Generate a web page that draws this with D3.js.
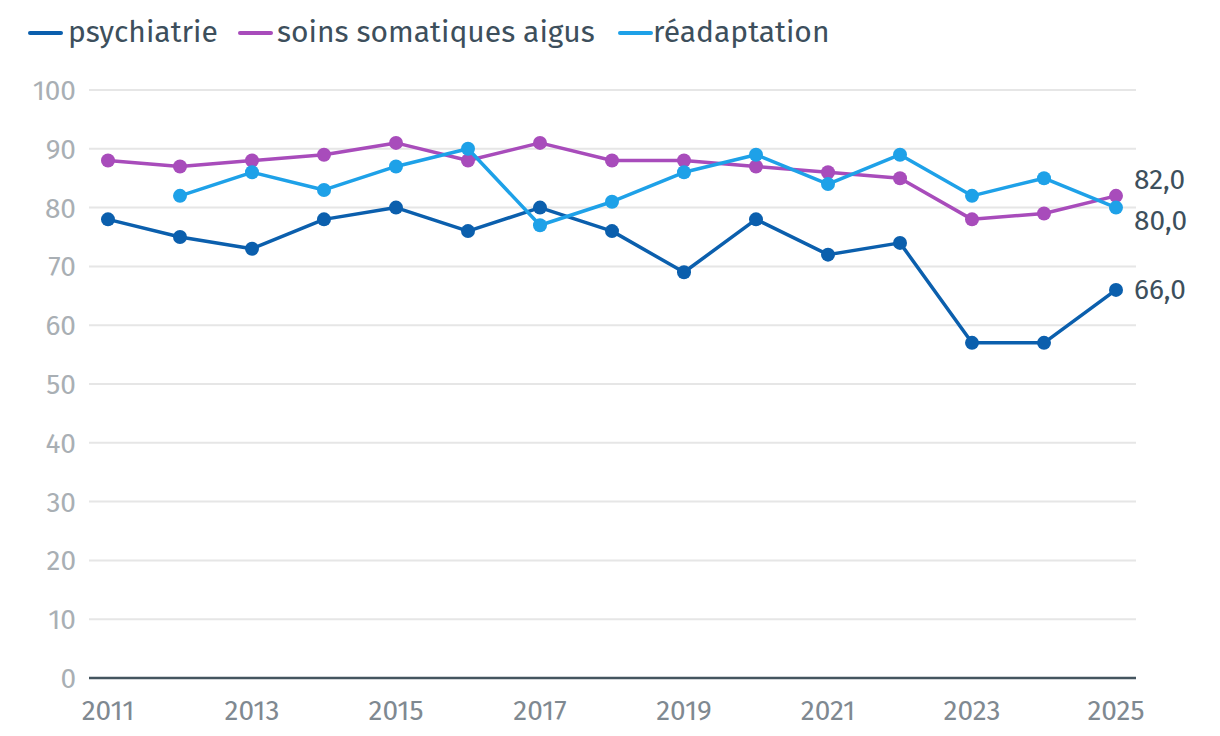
<!DOCTYPE html>
<html><head><meta charset="utf-8">
<script src="https://cdn.jsdelivr.net/npm/d3@7"></script>
<style>body{margin:0;background:#fff}svg{display:block}text{font-family:"Fira Sans","Open Sans","Noto Sans",sans-serif}</style>
</head><body><svg id="c" width="1220" height="736"></svg>
<script>
const years = [2011,2012,2013,2014,2015,2016,2017,2018,2019,2020,2021,2022,2023,2024,2025];
const psychiatrie = [78,75,73,78,80,76,80,76,69,78,72,74,57,57,66];
const soinsSomatiques = [88,87,88,89,91,88,91,88,88,87,86,85,78,79,82];
const readaptation = [null,82,86,83,87,90,77,81,86,89,84,89,82,85,80];
const seriesNames = ["psychiatrie","soins somatiques aigus","réadaptation"];
const colors = ["#0b5fad","#a84cbb","#1ea1e8"];
const yTicks = [0,10,20,30,40,50,60,70,80,90,100];
const xTicks = [2011,2013,2015,2017,2019,2021,2023,2025];

const svg = d3.select("#c");
const x = d3.scaleLinear().domain([2011,2025]).range([108,1116]);
const y = d3.scaleLinear().domain([0,100]).range([678,90]);

svg.append("g").selectAll("line").data(yTicks.filter(d=>d>0)).join("line")
  .attr("x1",89).attr("x2",1136).attr("y1",d=>y(d)).attr("y2",d=>y(d))
  .attr("stroke","#e6e6e6").attr("stroke-width",2);
svg.append("g").selectAll("text").data(yTicks).join("text")
  .attr("x",76).attr("y",d=>y(d)+10).attr("text-anchor","end")
  .attr("font-size",28).attr("fill","#a9afb4").text(d=>d);
svg.append("line").attr("x1",89).attr("x2",1136).attr("y1",y(0)).attr("y2",y(0))
  .attr("stroke","#44555f").attr("stroke-width",2.5);
svg.append("g").selectAll("text").data(xTicks).join("text")
  .attr("x",d=>x(d)).attr("y",720).attr("text-anchor","middle")
  .attr("font-size",28).attr("fill","#7f8991").text(d=>d);

const data = [psychiatrie, soinsSomatiques, readaptation];
const line = d3.line().defined(d=>d.v!=null).x(d=>x(d.year)).y(d=>y(d.v));
data.forEach((vals,i)=>{
  const pts = years.map((yr,j)=>({year:yr,v:vals[j]}));
  const g = svg.append("g");
  g.append("path").datum(pts).attr("d",line).attr("fill","none")
    .attr("stroke",colors[i]).attr("stroke-width",3.5).attr("stroke-linejoin","round");
  g.selectAll("circle").data(pts.filter(d=>d.v!=null)).join("circle")
    .attr("cx",d=>x(d.year)).attr("cy",d=>y(d.v)).attr("r",7).attr("fill",colors[i]);
});

const endLabels = [
  {v:soinsSomatiques[14], dy:-7},
  {v:readaptation[14], dy:22},
  {v:psychiatrie[14], dy:9}
];
svg.append("g").selectAll("text").data(endLabels).join("text")
  .attr("x",1134).attr("y",d=>y(d.v)+d.dy)
  .attr("font-size",28).attr("fill","#3d4f5c")
  .text(d=>d3.format(".1f")(d.v).replace(".",","));

const legX = [30,240,620];
const legT = [68,277,653];
const lg = svg.append("g");
seriesNames.forEach((n,i)=>{
  lg.append("line").attr("x1",legX[i]).attr("x2",legX[i]+31).attr("y1",33).attr("y2",33)
    .attr("stroke",colors[i]).attr("stroke-width",4).attr("stroke-linecap","round");
  lg.append("text").attr("x",legT[i]).attr("y",42).attr("font-size",30)
    .attr("fill","#3d4f5c").text(n);
});
</script></body></html>
